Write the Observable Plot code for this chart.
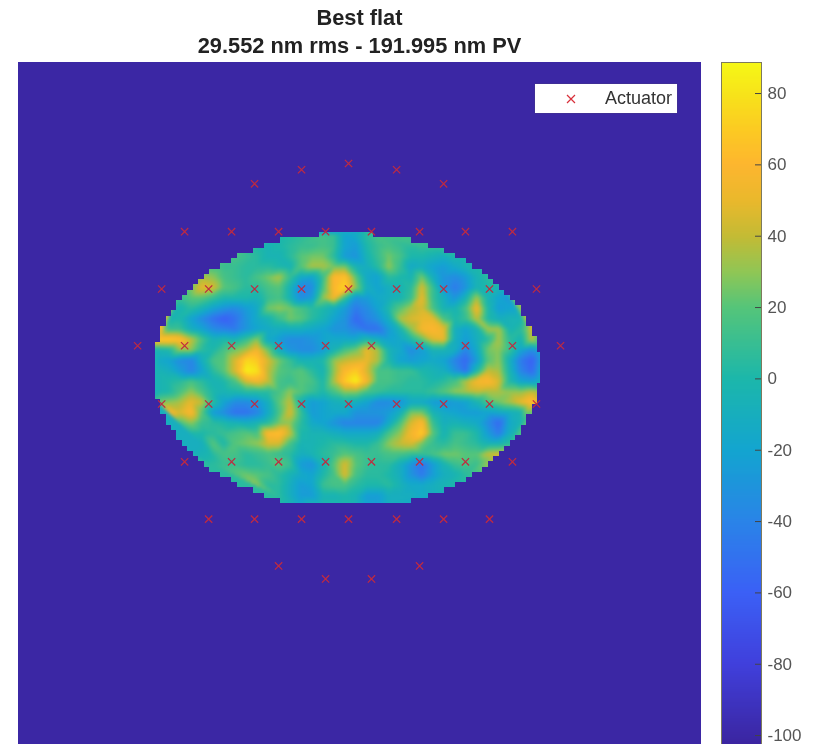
<!DOCTYPE html>
<html><head><meta charset="utf-8">
<script src="https://cdn.jsdelivr.net/npm/d3@7"></script>
<script src="https://cdn.jsdelivr.net/npm/@observablehq/plot@0.6"></script>
<style>
html,body{margin:0;padding:0;background:#fff;overflow:hidden}
#page{position:relative;width:814px;height:744px;font-family:"Liberation Sans",Arial,sans-serif;overflow:hidden;filter:blur(.5px)}
.t{position:absolute;left:18px;width:683px;text-align:center;font-weight:bold;font-size:21.8px;line-height:26px;color:#222;white-space:nowrap}
#main,#bar{position:absolute;top:62px}
#main{left:18px}#bar{left:721px}
#legend{position:absolute;left:535px;top:84px;width:142px;height:29px;background:#fff;box-shadow:0 0 1px #555}
#legend span{position:absolute;left:70px;top:4px;font-size:18px;line-height:21px;color:#333}
#legend svg{position:absolute;left:30px;top:9px}
</style></head><body>
<div id="page">
<div class="t" style="top:5px">Best flat</div>
<div class="t" style="top:33px">29.552 nm rms - 191.995 nm PV</div>
<div id="main"></div><div id="bar"></div>
<div id="legend"><svg width="12" height="12"><path d="M2 2L10 10M10 2L2 10" stroke="#d8303a" stroke-width="1.2" fill="none"/></svg><span>Actuator</span></div>
</div>
<script>
// colormap
const colorStops = [-102.5,-80,-60,-40,-20,0,20,30,40,50,60,70,80,88.7];
const colorValues = ["#3b25a0","#4040dc","#3b60f6","#2a84e8","#13a5d0","#1cb7ab","#55c57a","#90c655","#c4bb35","#eab82c","#fdb62f","#fccb22","#f7e41a","#f6f816"];
const barTicks = [80,60,40,20,0,-20,-40,-60,-80,-100];

// surface samples: first column index of each row, then the values read across it
const rowStart = [15,10,7,5,3,2,2,2,1,1,0,0,0,0,0,0,1,1,2,3,4,5,6,8,9,11,13];
const rowValues = [
[15,10,-20,-15,5,15],
[-5,0,5,10,10,15,10,-20,-25,0,10,15,10,5,10,10],
[15,10,5,-5,-5,5,20,25,25,5,-25,-30,-5,10,25,15,0,0,-5,-10,0,0],
[15,10,10,5,5,5,0,-5,20,35,35,25,25,-5,-10,5,30,10,-15,-10,-20,-25,-15,-5,0],
[25,35,30,15,10,5,15,25,35,10,-15,-20,10,60,65,20,-15,-20,5,0,-5,25,-10,-30,-35,-25,-5,5,10],
[15,25,50,45,20,15,5,5,15,20,-5,-40,-35,15,60,75,30,-10,-20,-10,-5,5,45,10,-30,-45,-30,-5,0,-5],
[10,20,20,10,0,0,0,-5,10,15,-5,-35,-25,30,55,10,-30,-25,-15,-10,-5,10,50,10,-10,-30,-5,35,-5,-20,-30],
[-5,5,-5,-20,-30,-35,-25,-15,25,30,25,15,5,0,-10,-25,-45,-35,-20,0,20,35,45,15,-5,-5,15,55,0,-25,-20],
[-5,0,-20,-35,-50,-60,-50,-30,-15,-5,10,25,20,5,-5,-20,-30,-55,-40,-30,-10,35,45,50,50,15,0,10,40,0,-10,-5,-5],
[10,10,-10,-20,-35,-40,-45,-30,-20,-15,-10,-10,-10,-15,-20,-30,-30,-40,-50,-50,-25,-5,30,55,60,50,-10,-20,-5,35,35,-5,5,45],
[70,70,65,40,15,-5,0,-5,10,30,-15,-25,-35,-35,-30,-20,-15,-15,-15,0,-10,-20,-15,0,20,45,50,-10,-25,-10,5,35,5,-5,40],
[-5,0,30,30,5,0,15,25,35,55,25,-10,-30,-35,-35,-25,-5,15,25,50,35,-5,-15,-35,-25,-5,-5,-10,-40,-15,25,30,10,-20,-35,-10],
[-15,-20,-35,-40,-10,15,20,45,75,70,45,25,10,-5,-5,0,30,40,45,50,35,0,-20,-25,-20,-15,-20,-40,-55,-25,20,30,-10,-45,-60,-20],
[-5,-10,-25,-40,-20,5,20,45,85,80,40,20,15,20,5,-5,30,60,70,45,15,15,10,10,0,-5,-10,-30,-50,0,40,35,-5,-40,-55,-10],
[-5,0,5,15,5,-5,0,15,45,55,40,15,10,20,15,0,35,70,85,55,15,15,10,5,5,0,5,15,35,55,60,45,0,-20,-25,-5],
[-5,0,15,30,15,0,-5,0,5,5,5,15,30,20,10,0,15,30,30,15,10,5,5,5,5,10,20,30,35,40,35,35,30,30,40,30],
[30,35,50,40,5,-20,-35,-35,-30,-10,20,40,-5,-25,-20,-10,-5,-10,-20,-35,-35,-30,-15,-15,-25,-30,-25,-20,-5,15,25,35,50,65,40],
[60,45,60,20,-25,-35,-50,-50,-40,-15,15,45,10,-25,-20,-15,-15,-30,-30,-30,-25,-10,25,25,-5,-15,-20,-25,-25,-20,-15,-10,-5],
[15,30,10,5,0,-5,-10,-5,5,25,30,5,-15,-20,-30,-40,-40,-40,-40,-15,15,45,60,10,-10,-5,-10,-15,-35,-55,-15,-5],
[0,0,5,10,15,20,15,60,65,40,0,-5,-5,-10,-15,-15,-15,-10,15,30,55,70,20,-5,10,10,0,-25,-45,-10],
[-10,20,0,20,25,30,45,45,15,-5,-5,0,5,5,0,0,10,30,40,45,25,10,5,15,10,5,-5,-5,5],
[5,15,15,5,10,15,10,5,-10,-5,5,10,20,15,10,10,15,15,10,10,15,25,25,20,20,40,45],
[10,10,5,5,10,20,10,-25,-30,-5,20,45,20,10,5,5,-10,-30,-50,-25,-5,10,15,10],
[25,20,15,5,-5,-15,-20,0,15,45,15,5,5,0,-10,-30,-45,-25,-10,-5,5],
[30,5,5,-10,-25,-20,10,15,15,5,0,0,5,-5,-15,-15,-10,-5],
[5,-10,-25,-25,-5,-5,0,-5,-25,-25,-10,-10,-10,-15],
[-15,0,0,0,0,-5,-20,-25,-10]
];
const backgroundValue = -101;

// stepped outline of the aperture, one entry per image row
const maskLeft  = [55,48,45,43,40,39,37,35,34,33,32,31,30,29,29,28,27,27,26,26,26,25,25,25,25,25,25,25,25,25,25,25,26,26,26,27,27,28,29,29,30,31,32,33,34,35,37,39,40,43,45,48];
const maskRight = [65,72,75,78,80,82,83,85,86,87,88,89,90,91,92,92,93,93,94,94,95,95,95,95.5,95.5,95.5,95.5,95.5,95.5,95,95,95,95,94,94,93,93,92,92,91,90,89,88,87,86,85,83,82,80,78,75,72];

// actuators: image row and the columns at that row
const actuatorRows = [19.4,20.6,23.3,32.5,43.5,54.4,65.6,76.7,87.7,96.7,99.2];
const actuatorCols = [
[60.4],[51.8,69.2],[43.2,77.8],
[30.4,39,47.6,56.2,64.6,73.4,81.8,90.4],
[26.2,34.8,43.2,51.8,60.4,69.2,77.8,86.2,94.8],
[21.8,30.4,39,47.6,56.2,64.6,73.4,81.8,90.4,99.2],
[26.2,34.8,43.2,51.8,60.4,69.2,77.8,86.2,94.8],
[30.4,39,47.6,56.2,64.6,73.4,81.8,90.4],
[34.8,43.2,51.8,60.4,69.2,77.8,86.2],
[47.6,73.4],[56.2,64.6]
];

const samples = rowValues.flatMap((vals,j)=>vals.map((v,k)=>({col:25.5+2.013*(rowStart[j]+k),row:33.2+2*j,v})));
const actuators = actuatorRows.flatMap((r,i)=>actuatorCols[i].map(c=>({col:c,row:r})));
const maskRects = maskLeft.flatMap((l,k)=>[
  {x1:0,x2:l,y1:32.7+k,y2:33.7+k},
  {x1:maskRight[k],x2:125,y1:32.7+k,y2:33.7+k}
]).concat([{x1:0,x2:125,y1:0,y2:32.7},{x1:0,x2:125,y1:84.7,y2:131}]);
const color = {type:"linear",domain:colorStops,range:colorValues,clamp:true};

const main = Plot.plot({
  width:683,height:682,margin:0,
  x:{domain:[0,125],range:[0,683],axis:null},
  y:{domain:[0,131],range:[0,682],axis:null},
  color,
  marks:[
    Plot.raster(samples,{x:"col",y:"row",fill:"v",interpolate:"barycentric",
      x1:15,x2:106,y1:24,y2:94,width:182,height:140}),
    Plot.rect(maskRects,{x1:"x1",x2:"x2",y1:"y1",y2:"y2",fill:()=>backgroundValue,shapeRendering:"crispEdges"}),
    Plot.dot(actuators,{x:"col",y:"row",symbol:"times",r:3.4,stroke:"#c02a40",strokeWidth:1.25})
  ]
});
main.querySelector("image").style.filter="blur(1.8px)";
document.getElementById("main").append(main);

const bar = Plot.plot({
  width:93,height:682,marginTop:0,marginBottom:0,marginLeft:0,marginRight:53,
  style:{fontFamily:"'Liberation Sans',Arial,sans-serif",overflow:"visible"},
  x:{domain:[0,1],axis:null},
  y:{domain:[-102.5,88.7],range:[682,0]},
  color,
  marks:[
    Plot.raster({fill:(x,y)=>y,x1:0,x2:1,y1:-102.5,y2:88.7,width:1,height:300}),
    Plot.ruleY(barTicks,{x1:0.85,x2:1,stroke:"#444"}),
    Plot.frame({stroke:"#7d7a5c"}),
    Plot.axisY(barTicks,{anchor:"right",tickSize:0,tickPadding:6,fontSize:17,fill:"#555",label:null,tickFormat:d=>String(d)})
  ]
});
document.getElementById("bar").append(bar);
</script>
</body></html>
